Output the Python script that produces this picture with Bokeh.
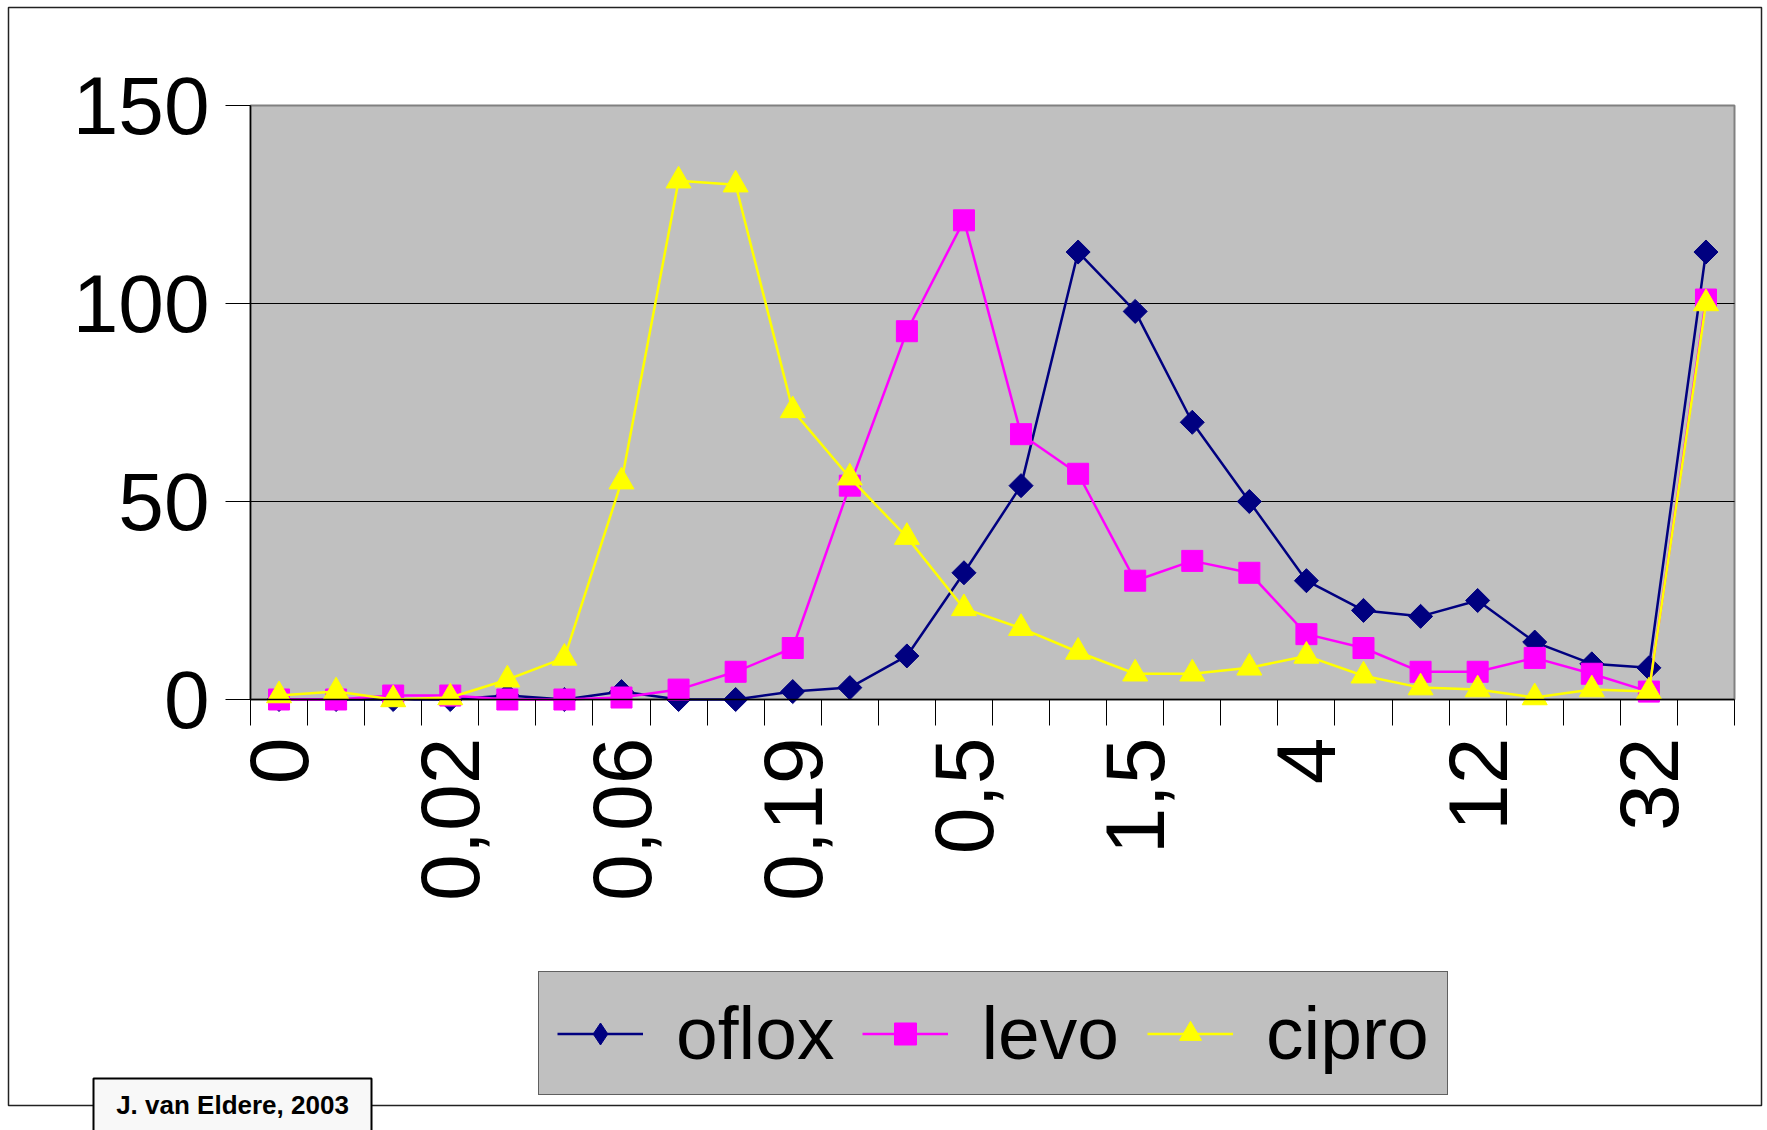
import math
from bokeh.plotting import figure
from bokeh.models import (Range1d, FixedTicker, Legend, LegendItem, BoxAnnotation,
                          Label, ColumnDataSource, LinearAxis)
from bokeh.embed import file_html
from bokeh.resources import INLINE

# ---------------- data ----------------
mic_labels = ["0", "0,01", "0,01", "0,02", "0,03", "0,05", "0,06", "0,09", "0,13",
              "0,19", "0,25", "0,38", "0,5", "0,75", "1", "1,5", "2", "3", "4",
              "6", "8", "12", "16", "24", "32", ">32"]
shown_every = 3

oflox = [0, 0, 0, 0, 1, 0, 2, 0, 0, 2, 3, 11, 32, 54, 113, 98, 70, 50, 30,
         22.5, 21, 25, 14.5, 9, 8, 113]
levo = [0, 0, 1, 1, 0, 0, 0.5, 2.5, 7, 13, 54, 93, 121, 67, 57, 30, 35, 32,
        16.5, 13, 7, 7, 10.5, 6.5, 2, 101]
cipro = [1, 2, 0, 0.5, 5, 10.5, 55, 131, 130, 73, 56, 41, 23, 18, 12, 6.5, 6.5,
         8, 11, 6, 3, 2.5, 0.5, 2.5, 2, 100]

series_names = ["oflox", "levo", "cipro"]
y_ticks = [0, 50, 100, 150]
footnote = "J. van Eldere, 2003"

# ---------------- layout (pixels) ----------------
FONT = "Liberation Sans"
W, H = 1767, 1130
PL, PR, PT, PB = 250, 1734, 105, 699          # plot-area box on the canvas

n = len(mic_labels)
xs = list(range(n))
x_lo, x_hi = -0.5, n - 0.5
y_lo, y_hi = y_ticks[0], y_ticks[-1]
ux = (PR - PL) / (x_hi - x_lo)
uy = (PB - PT) / (y_hi - y_lo)
x_range = Range1d(x_lo - PL / ux, x_hi + (W - PR) / ux)
y_range = Range1d(y_lo - (H - PB) / uy, y_hi + PT / uy)

p = figure(width=W, height=H, output_backend="svg", toolbar_location=None,
           x_range=x_range, y_range=y_range, min_border=0,
           x_axis_location=None, y_axis_location=None,
           background_fill_color="white", border_fill_color="white",
           outline_line_color=None)
for g in p.xgrid + p.ygrid:
    g.visible = False

# grey plot area
p.add_layout(BoxAnnotation(left=x_lo, right=x_hi, bottom=y_lo, top=y_hi,
                           fill_color="#C0C0C0", fill_alpha=1,
                           line_color="#808080", line_width=2, line_alpha=1,
                           level="underlay"))

# horizontal grid lines
grid_vals = y_ticks[1:-1]
p.segment(x0=[x_lo] * len(grid_vals), x1=[x_hi] * len(grid_vals),
          y0=grid_vals, y1=grid_vals, line_color="black", line_width=1)

# x axis
label_ticks = xs[::shown_every]
boundaries = [i - 0.5 for i in range(n + 1)]
xa = LinearAxis(fixed_location=y_lo, bounds=(x_lo, x_hi),
                ticker=FixedTicker(ticks=label_ticks, minor_ticks=boundaries))
xa.major_label_overrides = {i: mic_labels[i] for i in label_ticks}
xa.major_tick_line_color = None
xa.major_tick_out = 25
xa.major_tick_in = 0
xa.minor_tick_line_color = "black"
xa.minor_tick_out = 26
xa.minor_tick_in = 0
xa.axis_line_color = "black"
xa.axis_line_width = 1.5
xa.major_label_orientation = math.pi / 2
xa.major_label_text_font = FONT
xa.major_label_text_font_size = "84px"
xa.major_label_text_color = "black"
xa.major_label_standoff = 12
p.add_layout(xa, "below")

# y axis
ya = LinearAxis(fixed_location=x_lo, bounds=(y_lo, y_hi),
                ticker=FixedTicker(ticks=y_ticks))
ya.major_tick_out = 25
ya.major_tick_in = 0
ya.major_tick_line_color = "black"
ya.minor_tick_line_color = None
ya.axis_line_color = "black"
ya.axis_line_width = 1.5
ya.major_label_text_font = FONT
ya.major_label_text_font_size = "82px"
ya.major_label_text_color = "black"
ya.major_label_standoff = 16
p.add_layout(ya, "left")

# series
styles = [
    dict(color="#000080", marker="square", size=17, angle=math.pi / 4, legend_marker="diamond"),
    dict(color="#FF00FF", marker="square", size=21, angle=0, legend_marker=None),
    dict(color="#FFFF00", marker="triangle", size=25, angle=0, legend_marker=None),
]
items = []
for name, vals, st in zip(series_names, [oflox, levo, cipro], styles):
    src = ColumnDataSource(dict(x=xs, y=vals))
    ln = p.line("x", "y", source=src, line_color=st["color"], line_width=2.5)
    sc = p.scatter("x", "y", source=src, marker=st["marker"], size=st["size"],
                   angle=st["angle"], fill_color=st["color"], line_color=st["color"])
    legend_glyph = sc
    if st["legend_marker"] is not None:
        # legend-only marker (rotated markers are drawn unrotated in legends);
        # its single point is NaN, so nothing is drawn in the plot itself
        legend_glyph = p.scatter(x=[float("nan")], y=[float("nan")],
                                 marker=st["legend_marker"], size=st["size"],
                                 fill_color=st["color"], line_color=st["color"])
    items.append(LegendItem(label=name, renderers=[ln, legend_glyph]))

legend = Legend(items=items, orientation="horizontal", location=(538, H - 1095),
                label_text_font=FONT, label_text_font_size="75px",
                label_text_color="black",
                glyph_width=86, glyph_height=55, label_standoff=33, spacing=28,
                padding=18, margin=0,
                border_line_color="black", border_line_width=1.5,
                background_fill_color="#C0C0C0", background_fill_alpha=1)
p.add_layout(legend, "center")

# outer chart border
p.add_layout(BoxAnnotation(left=8, right=1761, top=H - 7, bottom=H - 1105,
                           left_units="screen", right_units="screen",
                           top_units="screen", bottom_units="screen",
                           fill_color=None, fill_alpha=0, line_color="#222222",
                           line_width=1.5, line_alpha=1))

# footnote box
p.add_layout(BoxAnnotation(left=93, right=371, top=H - 1078, bottom=-20,
                           left_units="screen", right_units="screen",
                           top_units="screen", bottom_units="screen",
                           fill_color="#F8F8F8", fill_alpha=1, line_color="black",
                           line_width=2, line_alpha=1))
p.add_layout(Label(x=232, y=H - 1104, x_units="screen", y_units="screen",
                   text=footnote, text_font=FONT, text_font_style="bold",
                   text_font_size="26px", text_align="center",
                   text_baseline="alphabetic", text_color="black"))

open("out.html", "w").write(file_html(p, INLINE))
